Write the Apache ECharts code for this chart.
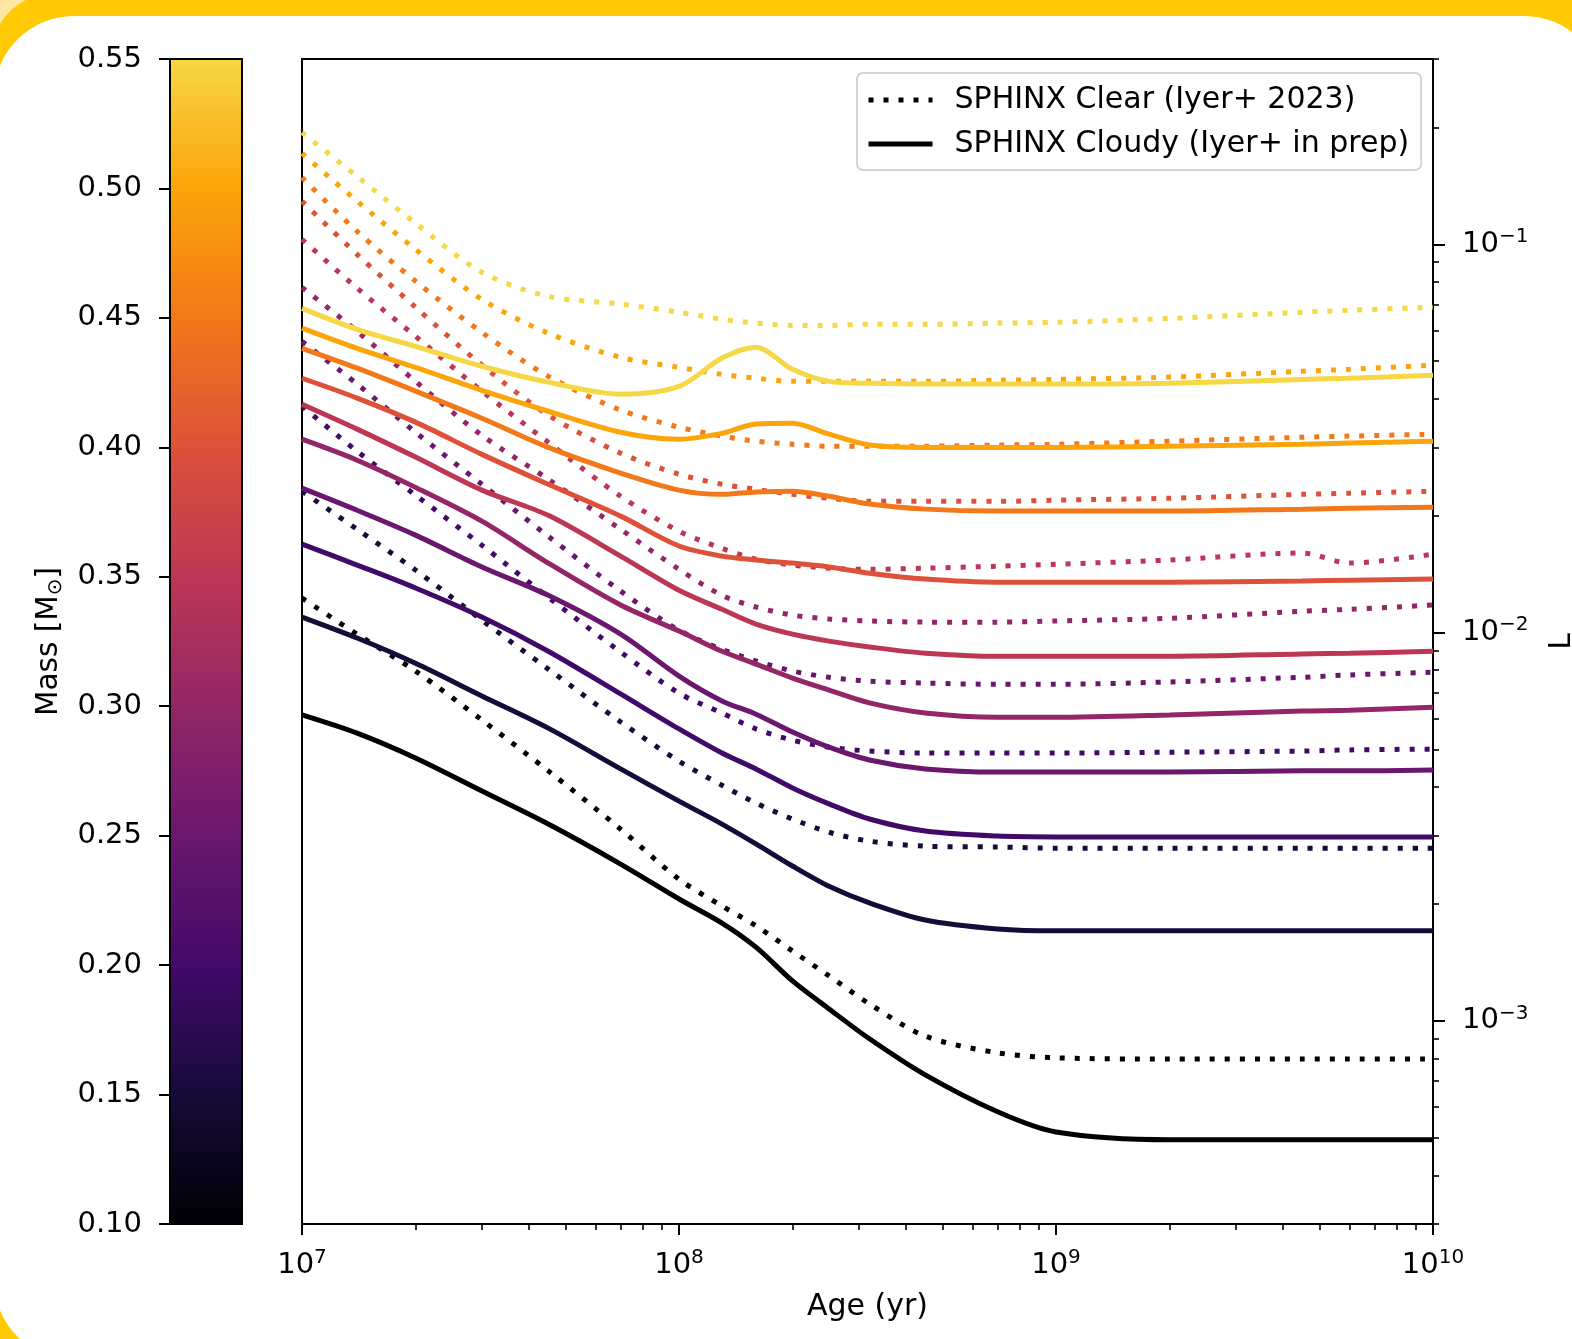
<!DOCTYPE html>
<html>
<head>
<meta charset="utf-8">
<title>SPHINX luminosity tracks</title>
<script src="https://cdn.jsdelivr.net/npm/echarts@6.0.0/dist/echarts.min.js"></script>
<style>
  html, body { margin: 0; padding: 0; }
  body { width: 1572px; height: 1339px; overflow: hidden; position: relative; background: #fde7a3; }
  .frame { position: absolute; left: -8px; top: -6px; width: 1700px; height: 1500px; background: #ffc905; border-radius: 60px; }
  .panel { position: absolute; left: -6px; top: 16px; width: 1610px; height: 1344px; background: #fff; border-radius: 80px; }
  #chart { position: absolute; left: 0; top: 0; width: 1572px; height: 1339px; }
</style>
</head>
<body>
<div class="frame"></div>
<div class="panel"></div>
<div id="chart"></div>
<script>
const FONT = 'DejaVu Sans';

// ages (yr) at which the tracks were read
const ages = [1e7, 1.4e7, 2e7, 3e7, 4.5e7, 7e7, 1e8, 1.3e8, 1.6e8, 2e8, 2.5e8, 3.2e8, 4.5e8, 7e8, 1e9, 2e9, 4.5e9, 6e9, 1e10];
const masses = [0.10, 0.15, 0.20, 0.25, 0.30, 0.35, 0.40, 0.45, 0.50, 0.55];

// log10 L, SPHINX clear (dotted)
const clear010 = [-1.911, -2.004, -2.099, -2.225, -2.356, -2.506, -2.635, -2.704, -2.755, -2.820, -2.884, -2.956, -3.039, -3.082, -3.095, -3.098, -3.098, -3.098, -3.098];
const clear015 = [-1.636, -1.734, -1.839, -1.968, -2.094, -2.230, -2.331, -2.393, -2.439, -2.480, -2.514, -2.537, -2.550, -2.552, -2.555, -2.555, -2.555, -2.555, -2.555];
const clear020 = [-1.417, -1.533, -1.646, -1.775, -1.909, -2.050, -2.156, -2.207, -2.248, -2.277, -2.295, -2.305, -2.310, -2.310, -2.310, -2.308, -2.305, -2.302, -2.300];
const clear025 = [-1.250, -1.360, -1.484, -1.618, -1.752, -1.893, -1.994, -2.043, -2.073, -2.099, -2.115, -2.125, -2.130, -2.133, -2.133, -2.127, -2.115, -2.109, -2.102];
const clear030 = [-1.111, -1.224, -1.353, -1.492, -1.605, -1.734, -1.837, -1.904, -1.934, -1.955, -1.965, -1.970, -1.973, -1.973, -1.970, -1.963, -1.945, -1.940, -1.929];
const clear035 = [-0.987, -1.113, -1.237, -1.378, -1.510, -1.649, -1.739, -1.783, -1.811, -1.826, -1.834, -1.837, -1.834, -1.829, -1.824, -1.813, -1.795, -1.821, -1.798];
const clear040 = [-0.889, -1.026, -1.162, -1.311, -1.440, -1.538, -1.592, -1.618, -1.631, -1.644, -1.654, -1.662, -1.662, -1.662, -1.659, -1.654, -1.644, -1.641, -1.636];
const clear045 = [-0.828, -0.967, -1.095, -1.227, -1.340, -1.427, -1.471, -1.494, -1.507, -1.515, -1.520, -1.520, -1.520, -1.517, -1.515, -1.507, -1.497, -1.494, -1.489];
const clear050 = [-0.766, -0.889, -1.013, -1.142, -1.229, -1.291, -1.317, -1.335, -1.345, -1.353, -1.353, -1.353, -1.353, -1.350, -1.348, -1.342, -1.327, -1.322, -1.311];
const clear055 = [-0.712, -0.825, -0.946, -1.072, -1.134, -1.154, -1.175, -1.193, -1.203, -1.209, -1.209, -1.206, -1.206, -1.203, -1.201, -1.191, -1.175, -1.170, -1.162];

// log10 L, SPHINX cloudy (solid)
const cloudy010 = [-2.212, -2.259, -2.323, -2.408, -2.493, -2.596, -2.686, -2.748, -2.810, -2.897, -2.969, -3.046, -3.139, -3.234, -3.286, -3.306, -3.306, -3.306, -3.306];
const cloudy015 = [-1.960, -2.014, -2.079, -2.163, -2.246, -2.351, -2.434, -2.493, -2.544, -2.601, -2.653, -2.696, -2.740, -2.763, -2.768, -2.768, -2.768, -2.768, -2.768];
const cloudy020 = [-1.772, -1.826, -1.885, -1.960, -2.048, -2.158, -2.248, -2.310, -2.351, -2.400, -2.441, -2.480, -2.511, -2.524, -2.526, -2.526, -2.526, -2.526, -2.526];
const cloudy025 = [-1.628, -1.685, -1.749, -1.831, -1.904, -2.004, -2.112, -2.176, -2.210, -2.256, -2.295, -2.328, -2.351, -2.359, -2.359, -2.359, -2.356, -2.356, -2.354];
const cloudy030 = [-1.502, -1.556, -1.626, -1.713, -1.821, -1.929, -1.996, -2.048, -2.081, -2.117, -2.148, -2.181, -2.207, -2.218, -2.218, -2.212, -2.202, -2.200, -2.192];
const cloudy035 = [-1.412, -1.476, -1.548, -1.633, -1.698, -1.803, -1.891, -1.940, -1.978, -2.004, -2.022, -2.037, -2.053, -2.061, -2.061, -2.061, -2.055, -2.053, -2.048];
const cloudy040 = [-1.345, -1.396, -1.458, -1.541, -1.618, -1.700, -1.777, -1.803, -1.813, -1.821, -1.831, -1.847, -1.862, -1.870, -1.870, -1.870, -1.867, -1.865, -1.862];
const cloudy045 = [-1.268, -1.319, -1.378, -1.448, -1.523, -1.589, -1.633, -1.644, -1.638, -1.636, -1.649, -1.669, -1.682, -1.687, -1.687, -1.687, -1.682, -1.680, -1.677];
const cloudy050 = [-1.216, -1.268, -1.317, -1.376, -1.430, -1.484, -1.502, -1.487, -1.463, -1.461, -1.489, -1.517, -1.523, -1.523, -1.523, -1.520, -1.515, -1.512, -1.507];
const cloudy055 = [-1.165, -1.219, -1.263, -1.314, -1.355, -1.386, -1.366, -1.293, -1.265, -1.322, -1.353, -1.358, -1.360, -1.360, -1.360, -1.358, -1.348, -1.345, -1.337];

const clearSets = [clear010, clear015, clear020, clear025, clear030, clear035, clear040, clear045, clear050, clear055];
const cloudySets = [cloudy010, cloudy015, cloudy020, cloudy025, cloudy030, cloudy035, cloudy040, cloudy045, cloudy050, cloudy055];

// tick labels (log10 units)
const ageDecades = [7, 8, 9, 10];
const lumDecades = [-3, -2, -1];
const massMin = 0.10, massMax = 0.55, massStep = 0.05;
const lumMin = Math.log10(3e-4), lumMax = Math.log10(0.3);

const CLEAR_NAME = 'SPHINX Clear (Iyer+ 2023)';
const CLOUDY_NAME = 'SPHINX Cloudy (Iyer+ in prep)';

// inferno, cut at 0.9 like the colorbar
const inferno = ['#000004', '#160b39', '#420a68', '#6a176e', '#932667', '#bc3754', '#dd513a', '#f37819', '#fca50a', '#f6d746'];

const LW = 5;
const DOTS = [5, 10];
const PLOT_TOP = 59, PLOT_H = 1165;

function hexToRgb(h) {
    return [parseInt(h.slice(1, 3), 16), parseInt(h.slice(3, 5), 16), parseInt(h.slice(5, 7), 16)];
}
function massColor(m) {
    let t = (m - massMin) / (massMax - massMin) * (inferno.length - 1);
    let i = Math.min(Math.floor(t), inferno.length - 2);
    let f = t - i;
    let a = hexToRgb(inferno[i]), b = hexToRgb(inferno[i + 1]);
    let c = a.map((v, k) => Math.round(v + (b[k] - v) * f));
    return 'rgb(' + c.join(',') + ')';
}

function minorTicks(from, to, lo, hi) {
    let out = [];
    for (let d = from; d <= to; d++) {
        for (let k = 2; k <= 9; k++) {
            let v = d + Math.log10(k);
            if (v >= lo - 1e-6 && v <= hi + 1e-6) out.push(v);
        }
    }
    return out;
}
const ageMinor = minorTicks(7, 9, 7, 10);
const lumMinor = minorTicks(-4, -1, lumMin, lumMax);

const supRich = {
    b: { fontSize: 29, fontFamily: FONT, color: '#000', lineHeight: 35 },
    s: { fontSize: 20, fontFamily: FONT, color: '#000', lineHeight: 20, verticalAlign: 'top' }
};

const chart = echarts.init(document.getElementById('chart'));

let series = [];
masses.forEach((m, i) => {
    let color = massColor(m);
    series.push({
        name: 'clear ' + m.toFixed(2),
        type: 'line',
        xAxisIndex: 1, yAxisIndex: 1,
        data: ages.map((a, j) => [Math.log10(a), clearSets[i][j]]),
        symbol: 'none',
        smooth: 0.3,
        lineStyle: { color: color, width: LW, type: DOTS, cap: 'butt' },
        z: 3
    });
    series.push({
        name: 'cloudy ' + m.toFixed(2),
        type: 'line',
        xAxisIndex: 1, yAxisIndex: 1,
        data: ages.map((a, j) => [Math.log10(a), cloudySets[i][j]]),
        symbol: 'none',
        smooth: 0.3,
        lineStyle: { color: color, width: LW },
        z: 3
    });
});

// legend entries only
series.push({
    name: CLEAR_NAME, type: 'line', xAxisIndex: 1, yAxisIndex: 1, data: [], symbol: 'none',
    itemStyle: { color: '#000' },
    lineStyle: { color: '#000', width: LW, type: DOTS, cap: 'butt' }
});
series.push({
    name: CLOUDY_NAME, type: 'line', xAxisIndex: 1, yAxisIndex: 1, data: [], symbol: 'none',
    itemStyle: { color: '#000' },
    lineStyle: { color: '#000', width: LW }
});

// colorbar
series.push({
    type: 'custom',
    xAxisIndex: 0, yAxisIndex: 0,
    data: [[0, massMin, 1, massMax]],
    renderItem: function (params, api) {
        let p0 = api.coord([api.value(0), api.value(3)]);
        let p1 = api.coord([api.value(2), api.value(1)]);
        return {
            type: 'rect',
            shape: { x: p0[0], y: p0[1], width: p1[0] - p0[0], height: p1[1] - p0[1] },
            style: {
                fill: new echarts.graphic.LinearGradient(0, 1, 0, 0,
                    inferno.map((c, k) => ({ offset: k / (inferno.length - 1), color: c }))),
                stroke: '#000',
                lineWidth: 2
            }
        };
    },
    silent: true
});

let option = {
    animation: false,
    textStyle: { fontFamily: FONT },
    grid: [
        { left: 170, top: PLOT_TOP, width: 72, height: PLOT_H, outerBoundsMode: 'none' },
        { left: 302, top: PLOT_TOP, width: 1131, height: PLOT_H, outerBoundsMode: 'none',
          show: true, borderColor: '#000', borderWidth: 2 }
    ],
    legend: {
        data: [
            { name: CLEAR_NAME, lineStyle: { color: '#000', width: LW, type: DOTS, cap: 'butt' } },
            { name: CLOUDY_NAME, lineStyle: { color: '#000', width: LW, type: 'solid' } }
        ],
        orient: 'vertical',
        left: 857, top: 73,
        itemWidth: 64, itemHeight: 20, itemGap: 10,
        padding: [10, 12, 9, 9],
        backgroundColor: 'rgba(255,255,255,0.8)',
        borderColor: '#d4d4d4', borderWidth: 2, borderRadius: 6,
        itemStyle: { opacity: 0 },
        textStyle: { fontFamily: FONT, fontSize: 30, color: '#000', lineHeight: 34, padding: [0, 0, 0, 17] },
        selectedMode: false
    },
    xAxis: [
        { gridIndex: 0, type: 'value', min: 0, max: 1, show: false },
        {
            gridIndex: 1, type: 'value', min: 7, max: 10, position: 'bottom',
            name: 'Age (yr)', nameLocation: 'middle', nameGap: 68,
            nameTextStyle: { fontFamily: FONT, fontSize: 30, color: '#000' },
            axisLine: { onZero: false, lineStyle: { color: '#000', width: 2 } },
            axisTick: { customValues: ageDecades, length: 11, lineStyle: { color: '#000', width: 2 } },
            axisLabel: {
                customValues: ageDecades, margin: 24,
                formatter: v => '{b|10}{s|' + Math.round(v) + '}',
                rich: supRich
            },
            splitLine: { show: false }
        },
        {
            gridIndex: 1, type: 'value', min: 7, max: 10, position: 'bottom',
            axisLine: { show: false, onZero: false },
            axisTick: { customValues: ageMinor, length: 6, lineStyle: { color: '#000', width: 1.6 } },
            axisLabel: { show: false },
            splitLine: { show: false }
        }
    ],
    yAxis: [
        {
            gridIndex: 0, type: 'value', min: massMin, max: massMax, interval: massStep, position: 'left',
            name: '{a|Mass [M}{s|⊙}{a|]}', nameLocation: 'middle', nameGap: 104,
            nameTextStyle: {
                fontFamily: FONT, fontSize: 29, color: '#000',
                rich: {
                    a: { fontFamily: FONT, fontSize: 29.5, color: '#000', lineHeight: 34 },
                    s: { fontFamily: FONT, fontSize: 20, color: '#000', lineHeight: 22, verticalAlign: 'bottom' }
                }
            },
            axisLine: { show: true, onZero: false, lineStyle: { color: '#000', width: 2 } },
            axisTick: { show: true, length: 11, lineStyle: { color: '#000', width: 2 } },
            axisLabel: { margin: 28, fontFamily: FONT, fontSize: 29, color: '#000', formatter: v => v.toFixed(2) },
            splitLine: { show: false }
        },
        {
            gridIndex: 1, type: 'value', min: lumMin, max: lumMax, position: 'right',
            name: 'L', nameLocation: 'middle', nameGap: 114,
            nameTextStyle: { fontFamily: FONT, fontSize: 30, color: '#000' },
            axisLine: { show: true, onZero: false, lineStyle: { color: '#000', width: 2 } },
            axisTick: { show: true, customValues: lumDecades, length: 12, lineStyle: { color: '#000', width: 2 } },
            axisLabel: {
                customValues: lumDecades, margin: 29,
                formatter: v => '{b|10}{s|\u2212' + Math.round(-v) + '}',
                rich: supRich
            },
            splitLine: { show: false }
        },
        {
            gridIndex: 1, type: 'value', min: lumMin, max: lumMax, position: 'right',
            axisLine: { show: false, onZero: false },
            axisTick: { show: true, customValues: lumMinor, length: 6, lineStyle: { color: '#000', width: 1.6 } },
            axisLabel: { show: false },
            splitLine: { show: false }
        }
    ],
    series: series
};

chart.setOption(option);
</script>
</body>
</html>
